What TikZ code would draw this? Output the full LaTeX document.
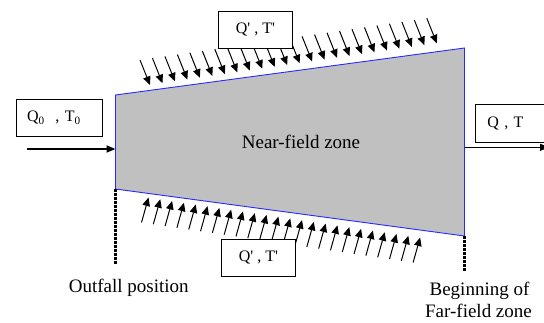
\documentclass[tikz,border=0pt]{standalone}
\usepackage{fontspec}
\setmainfont{Liberation Serif}
\newfontfamily\timesfont{Liberation Serif}
\usetikzlibrary{arrows.meta}
\definecolor{ZoneGray}{RGB}{192,192,192}
\definecolor{EdgeBlue}{RGB}{40,40,255}
\tikzset{
  zone/.style={fill=ZoneGray,draw=EdgeBlue,line width=0.9pt},
  flowbox/.style={draw,fill=white,line width=0.9pt,minimum height=37pt,
    font=\timesfont\fontsize{16}{19}\selectfont,inner xsep=11pt},
  flux/.style={-{Triangle[length=8.5pt,width=7.5pt]},line width=1pt},
  mainflow/.style={-{Triangle[length=9pt,width=7pt]},line width=1.8pt},
  marker/.style={line width=3pt,dash pattern=on 2.5pt off 1.5pt},
  caption/.style={font=\timesfont\fontsize{19}{22}\selectfont,inner sep=0pt,
    anchor=base}
}

\begin{document}
\begin{tikzpicture}[x=1pt,y=-1pt]
\path[use as bounding box,clip] (0,0) rectangle (544,322);

% near-field zone
\coordinate (tl) at (115.5,95);
\coordinate (tr) at (464.5,48);
\coordinate (br) at (464.5,236);
\coordinate (bl) at (115.5,189);
\filldraw[zone] (tl) -- (tr) -- (br) -- (bl) -- cycle;
\node[caption] (nearzone) at (301,148.3) {Near-field zone};

% entrainment, upper side
\foreach \i in {0,...,23}{
  \coordinate (ua\i) at ({140+12.47*\i},{60-1.813*\i});
  \coordinate (ub\i) at ({150+12.47*\i},{85-1.813*\i});
  \draw[flux] (ua\i) -- (ub\i);
}

% entrainment, lower side
\foreach \i in {0,...,23}{
  \coordinate (la\i) at ({141.5+11.81*\i},{222.5+1.74*\i});
  \coordinate (lb\i) at ({148.5+11.81*\i},{197.5+1.74*\i});
  \draw[flux] (la\i) -- (lb\i);
}

\node[flowbox,anchor=north west,minimum width=74pt] (topbox) at (218,11)
  {Q\textquotesingle\ , T\textquotesingle};
\node[flowbox,anchor=north west,minimum width=74pt] (botbox) at (221,239)
  {Q\textquotesingle\ , T\textquotesingle};

% inflow
\node[flowbox,anchor=north west,text width=64.6pt,align=left] (inbox) at (15.7,99)
  {Q\textsubscript{0}\ \ , T\textsubscript{0}};
\coordinate (inA) at (27,149);
\coordinate (inB) at (115.5,149);
\draw[mainflow] (inA) -- (inB);

% outflow
\node[flowbox,anchor=north west,text width=60pt,align=left,inner xsep=12pt,
  minimum height=38pt] (outbox) at (475,104) {Q , T};
\coordinate (outA) at (464.5,147.3);
\coordinate (outB) at (549,147.3);
\draw[mainflow,line width=1.3pt] (outA) -- (outB);

% positions
\coordinate (outfallend) at (115.5,264);
\coordinate (farend) at (464.5,271);
\draw[marker] (bl) -- (outfallend);
\draw[marker] (br) -- (farend);

\node[caption] (outfall) at (128.8,292.7) {Outfall position};
\node[caption] (farA) at (479.5,295) {Beginning of};
\node[caption] (farB) at (478.5,317.7) {Far-field zone};

\end{tikzpicture}
\end{document}
